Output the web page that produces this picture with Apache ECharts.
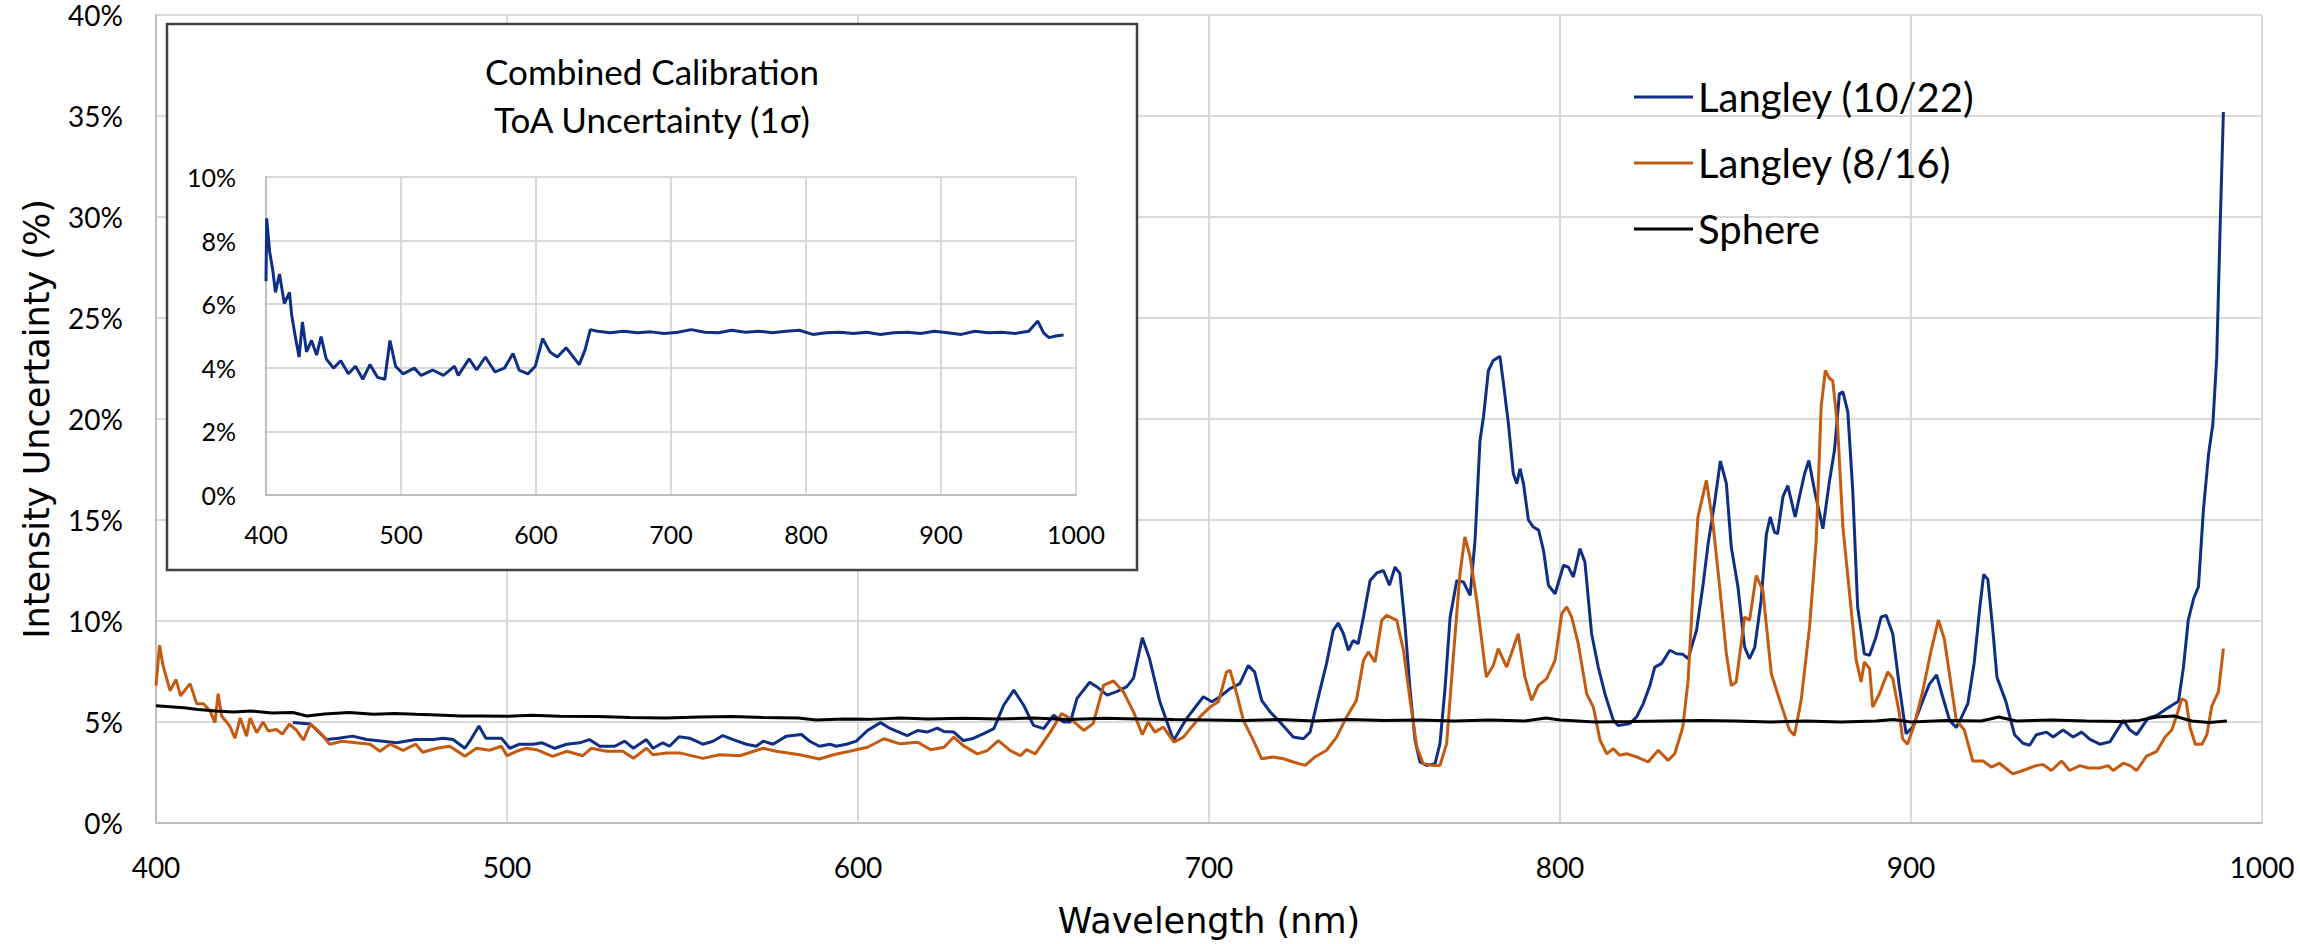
<!DOCTYPE html>
<html>
<head>
<meta charset="utf-8">
<title>Intensity Uncertainty</title>
<script src="https://cdn.jsdelivr.net/npm/echarts@6/dist/echarts.min.js"></script>
<style>
  html, body { margin: 0; padding: 0; background: #fff; }
  #main { width: 2300px; height: 944px; }
</style>
</head>
<body>
<div id="main"></div>
<script>
// Langley (10/22)
var wl1022 = [439, 444, 448.6, 452, 456, 460, 464.7, 468.5, 474, 479, 481.8, 484.6, 488, 489.4, 492, 494, 498.4, 500.8,
  503.6, 507.4, 510, 513.6, 517, 520.7, 523.5, 526.4, 530.7, 533.5, 536, 539.7, 541.6, 544.4, 546.3, 549, 552, 555.8,
  558.7, 561.5, 564.4, 568.2, 571, 573, 575.8, 579.6, 583.9, 586.2, 589, 592, 593.8, 596.7, 599.5,
  602.7, 606.4, 609.3, 614, 617, 619.7, 622.6, 624.5, 627.3, 630, 632.5, 635.8, 638.7, 641.5, 644.4, 647.2, 650,
  652.9, 655.7, 658.6, 660.5, 662.4, 666, 668, 671, 673.7, 676.6, 678.5, 681, 683, 686, 689.9, 693.6, 698.4, 700.8,
  703, 706, 708.8, 711.2, 713, 715, 717.4, 720.2, 724, 726.9, 728.8, 731.6, 733.5, 735.4, 736.8, 738.3, 739.7,
  741.1, 742.5, 744, 745.9, 747.8, 749.7, 751.4, 753, 754.4, 755.8, 757.3, 758.7, 760.1, 762, 764.4, 765.8, 767.2,
  768.7, 770.6, 772.5, 774.4, 775.8, 777.2, 778.2, 779.6, 781, 782.9, 783.9, 785.3, 786.7, 787.7, 788.6, 789.6,
  791, 792.4, 793.9, 795.3, 796.7, 798.6, 801, 802.4, 803.8, 805.7, 807.1, 809, 810.9, 812.8, 815.2, 816.6, 819.9,
  821.8, 823.7, 825.6, 827, 828.9, 831.3, 833.2, 835, 836.5, 838.9, 840.8, 842.2, 844, 845.7, 847.4, 848.8, 850.7,
  852.6, 854, 855.5, 857.3, 858.8, 859.9, 861.1, 862, 863.5, 864.9, 867, 868.2, 869.7, 870.9, 872.5, 874.9, 876.8,
  878.2, 879.6, 880.6, 882, 883.4, 884.8, 886.7, 888.2, 890, 891.5, 892.9, 894.8, 896.7, 898.6, 900.5, 903.3,
  905.2, 907.3, 909, 911, 912.9, 914.3, 916.2, 918, 919.5, 920.7, 921.9, 923.3, 924.5, 927, 929.5, 931.9, 933.8,
  935.7, 938.6, 940.5, 943.3, 946.2, 948.6, 951, 953.8, 956.7, 960.5, 962.4, 964.3, 967.6, 970, 972.9, 976.2,
  977.6, 979, 980.5, 981.9, 983.3, 984.8, 986, 987.1, 988.1, 989];
var val1022 = [4.97, 4.9, 4.13, 4.2, 4.3, 4.13, 4.05, 3.97, 4.13, 4.13, 4.2, 4.13, 3.7, 4.05, 4.8, 4.2, 4.2, 3.7,
  3.9, 3.9, 3.97, 3.7, 3.9, 3.97, 4.13, 3.8, 3.8, 4.05, 3.7, 4.13, 3.7, 3.97, 3.8, 4.27, 4.2, 3.9,
  4.05, 4.33, 4.13, 3.9, 3.8, 4.05, 3.9, 4.3, 4.38, 4.05, 3.8, 3.9, 3.8, 3.9, 4.05,
  4.58, 4.97, 4.67, 4.33, 4.58, 4.5, 4.7, 4.53, 4.5, 4.08, 4.17, 4.42, 4.67, 5.83, 6.58, 5.83, 4.83,
  4.67, 5.33, 5.0, 5.0, 6.17, 6.97, 6.75, 6.33, 6.5, 6.75, 7.17, 9.17, 8.17, 6.0, 4.08, 5.17, 6.25, 6.0,
  6.24, 6.65, 6.9, 7.8, 7.48, 6.07, 5.5, 5.0, 4.26, 4.17, 4.5, 6.57, 7.9, 9.54, 9.9, 9.37, 8.55,
  9.04, 8.88, 10.2, 12.0, 12.38, 12.5, 11.77, 12.67, 12.34, 9.87, 6.57, 4.1, 3.02, 2.85, 2.94, 3.93, 6.57,
  10.2, 12.0, 11.93, 11.27, 14.0, 18.94, 20.1, 22.4, 22.9, 23.1, 21.75, 19.77, 17.3, 16.8, 17.54, 16.8,
  15.0, 14.65, 14.5, 13.5, 11.77, 11.35, 12.76, 12.67, 12.18, 13.58, 12.92, 9.37, 7.72, 6.4, 5.08, 4.83, 4.92,
  5.25, 5.9, 6.8, 7.72, 7.89, 8.55, 8.38, 8.35, 8.14, 9.54, 11.85, 13.83, 15.8, 17.92, 16.8, 13.66, 11.68,
  8.71, 8.14, 8.71, 11.02, 14.3, 15.15, 14.4, 14.32, 16.14, 16.7, 15.15, 16.14, 17.3, 17.95, 16.47, 14.57, 16.96,
  18.45, 21.25, 21.34, 20.35, 16.47, 10.7, 8.38, 8.3, 9.2, 10.2, 10.28, 9.37, 6.73, 4.42, 4.75, 6.03,
  6.86, 7.33, 6.26, 5.08, 4.73, 5.2, 5.91, 7.92, 10.5, 12.3, 12.06, 9.57, 7.21, 6.03, 4.37, 3.95, 3.85,
  4.37, 4.5, 4.26, 4.6, 4.26, 4.5, 4.14, 3.9, 4.02, 5.08, 4.6, 4.37, 5.2, 5.32, 5.67, 6.03,
  7.68, 10.05, 11.1, 11.7, 15.48, 18.3, 19.74, 23.05, 29.67, 35.2];

// Langley (8/16)
var wl816 = [400, 401, 402, 404, 405.7, 407, 409.7, 411.6, 413.5, 415.4, 416.8, 417.7, 418.7, 421, 422.5, 424, 425.8,
  426.8, 428.7, 430.5, 432, 434.3, 436, 438, 440, 442, 444, 446, 447.6, 449.5, 453, 457, 461, 463.8, 466.6, 470.4,
  474, 476, 480, 483.7, 488, 491.3, 495, 498.4, 500, 502.7, 505.5, 508.4, 513, 517, 521.6, 524, 528.3, 533, 536,
  539.7, 541.6, 545.4, 549.2, 555.8, 560.6, 566.3, 573, 576.7, 583.4, 589, 593, 597.6, 602.7, 607.4, 612, 617,
  620.7, 624.5, 627.3, 630, 634, 636.8, 640, 643.4, 646.3, 648, 650.5, 654.8, 658, 660.5, 664.3, 667, 670, 672.8,
  675.6, 678.5, 681, 682.7, 684.6, 687, 690, 692.7, 697.4, 700.3, 702.7, 705, 706, 707.9, 709.8, 712.6, 715, 718.3,
  721.2, 724, 727.4, 730.2, 733.5, 736.4, 739.2, 742, 744, 745.4, 747.3, 749.2, 750.6, 753.5, 755.4, 757.3, 759.2,
  761, 763.9, 765.8, 767.7, 769.6, 771.5, 772.9, 774.4, 776.3, 777.7, 779, 781, 782.4, 784.8, 788.1, 790, 791.9,
  793.8, 796.2, 798.6, 800.5, 801.9, 803.3, 805.2, 807.6, 809.5, 811.4, 813.3, 815.2, 817, 819, 821.8, 825.1, 828,
  830.8, 832.7, 835, 836.5, 837.9, 839.3, 841.7, 843.6, 845.5, 847.4, 848.8, 850.2, 852.6, 854, 855.9, 857.8, 860.2,
  862.6, 865.4, 866.8, 868.7, 871.1, 873, 874.4, 875.6, 876.8, 877.7, 879.1, 880.6, 882.5, 884.4, 885.8, 886.7,
  888.2, 889.1, 891, 893.4, 894.8, 896.7, 897.6, 899, 901, 903.3, 905.7, 907.8, 909.5, 911, 912.9, 915.2, 917.6,
  920.5, 922.9, 925.2, 929, 931.9, 935.7, 937.6, 940, 942.9, 945.2, 948.1, 950.5, 953.8, 956.2, 957.6, 960.5,
  962.4, 964.3, 967.1, 970, 972.4, 974.3, 975.7, 977.1, 978.4, 979.5, 981, 982.9, 984.3, 985.7, 987.6, 989];
var val816 = [6.8, 8.8, 7.8, 6.55, 7.1, 6.3, 6.9, 5.9, 5.9, 5.55, 4.97, 6.4, 5.3, 4.8, 4.2, 5.2, 4.3,
  5.2, 4.47, 5.0, 4.55, 4.63, 4.4, 4.9, 4.6, 4.1, 4.9, 4.6, 4.3, 3.9, 4.05, 3.97, 3.9, 3.55, 3.9, 3.6,
  3.9, 3.5, 3.7, 3.8, 3.3, 3.7, 3.6, 3.8, 3.33, 3.55, 3.7, 3.63, 3.3, 3.55, 3.33, 3.7, 3.55, 3.55, 3.2,
  3.7, 3.38, 3.47, 3.47, 3.2, 3.38, 3.33, 3.7, 3.55, 3.38, 3.17, 3.38, 3.55, 3.75, 4.17, 3.92, 4.0,
  3.63, 3.75, 4.25, 3.83, 3.42, 3.58, 4.08, 3.58, 3.33, 3.63, 3.42, 4.5, 5.42, 5.17, 4.58, 4.92, 6.83, 7.03,
  6.5, 5.5, 4.37, 5.0, 4.5, 4.75, 4.0, 4.25, 5.25, 5.74, 6.0, 7.48, 7.56, 6.4, 5.08, 4.1, 3.18, 3.27,
  3.18, 3.02, 2.85, 3.27, 3.6, 4.26, 5.25, 6.07, 8.05, 8.47, 7.97, 10.03, 10.28, 10.03, 8.55, 6.07, 3.76,
  2.94, 2.85, 2.85, 3.93, 8.2, 12.34, 14.16, 13.17, 11.0, 9.04, 7.23, 7.8, 8.63, 7.72, 9.37, 7.23, 6.07,
  6.8, 7.15, 8.05, 10.36, 10.7, 10.2, 8.88, 6.4, 5.74, 4.1, 3.43, 3.68, 3.35, 3.43, 3.27, 3.02, 3.6,
  3.1, 3.43, 4.75, 7.06, 11.5, 15.15, 16.96, 14.8, 11.68, 8.38, 6.8, 6.98, 10.2, 10.03, 12.26, 11.5, 7.39,
  6.07, 4.59, 4.34, 6.07, 9.7, 14.0, 20.6, 22.4, 22.0, 21.9, 19.6, 14.65, 11.35, 8.05, 6.98, 7.97,
  7.64, 5.74, 6.4, 7.48, 7.15, 5.41, 4.17, 3.9, 4.9, 6.5, 8.51, 10.05, 9.1, 7.33, 5.08, 4.6, 3.07,
  3.07, 2.77, 2.96, 2.43, 2.6, 2.84, 2.9, 2.6, 3.07, 2.6, 2.84, 2.72, 2.72, 2.84, 2.6, 2.96,
  2.84, 2.6, 3.31, 3.55, 4.26, 4.6, 5.32, 6.15, 6.03, 4.73, 3.9, 3.9, 4.37, 5.79, 6.5, 8.63];

// Sphere
var wlSphere = [400, 404, 408, 412, 417, 422, 427, 433, 439, 443, 448, 455, 462, 468, 474, 480, 487, 493, 500, 507,
  515, 526, 535, 545, 555, 564, 573, 583, 588, 596, 603, 612, 620, 630, 640, 650, 660, 670, 680, 690, 700, 710,
  720, 730, 740, 750, 760, 770, 780, 790, 796, 800, 810, 820, 830, 840, 850, 860, 870, 880, 890, 895, 900, 910,
  920, 925, 930, 940, 950, 960, 965, 970, 975, 980, 985, 990];
var valSphere = [5.8, 5.75, 5.7, 5.62, 5.55, 5.5, 5.55, 5.45, 5.47, 5.3, 5.4, 5.47, 5.38, 5.42, 5.38, 5.35, 5.3, 5.3,
  5.28, 5.33, 5.28, 5.27, 5.22, 5.2, 5.25, 5.27, 5.22, 5.2, 5.1, 5.15, 5.13, 5.2, 5.15, 5.18, 5.15, 5.2, 5.12,
  5.18, 5.15, 5.12, 5.1, 5.08, 5.12, 5.05, 5.12, 5.08, 5.1, 5.05, 5.1, 5.05, 5.2, 5.1, 5.0, 5.02, 5.05, 5.08,
  5.05, 5.0, 5.05, 5.0, 5.05, 5.12, 5.0, 5.08, 5.05, 5.25, 5.05, 5.1, 5.05, 5.03, 5.08, 5.25, 5.3, 5.05, 4.98, 5.05];

// Inset: combined calibration ToA uncertainty
var wlInset = [400, 400.5, 402.7, 405, 407, 410, 413.6, 417.4, 419, 421.7, 424.5, 427, 430, 433.7, 437.5, 440.8,
  444.6, 450, 455.4, 461, 466.3, 471.7, 477, 482.6, 488, 491.8, 496, 501.6, 509.8, 515, 523.4, 531.5, 539.7,
  542.4, 550.5, 556, 562.5, 569.6, 576.6, 583, 587.5, 594, 599.5, 604.9, 610.3, 615.8, 622.3, 626.6, 632, 636.4,
  640.2, 645.6, 655, 665, 675, 685, 695, 705, 715, 725, 735, 745, 755, 765, 775, 785, 795, 805, 815, 825, 835,
  845, 855, 865, 875, 885, 895, 905, 915, 925, 935, 945, 955, 965, 971.7, 976, 980, 985, 990.8];
var valInset = [6.72, 8.7, 7.65, 7.07, 6.37, 6.95, 6.02, 6.37, 5.67, 4.98, 4.34, 5.44, 4.5, 4.86, 4.4, 4.98,
  4.28, 3.99, 4.22, 3.81, 4.05, 3.64, 4.1, 3.7, 3.64, 4.86, 4.05, 3.81, 3.99, 3.76, 3.93, 3.76, 4.05,
  3.76, 4.28, 3.93, 4.34, 3.87, 3.99, 4.45, 3.93, 3.81, 4.05, 4.92, 4.5, 4.34, 4.63, 4.4, 4.1, 4.57,
  5.2, 5.15, 5.1, 5.15, 5.1, 5.13, 5.08, 5.12, 5.2, 5.12, 5.1, 5.18, 5.12, 5.15, 5.1, 5.15, 5.18, 5.05, 5.1, 5.12, 5.08,
  5.12, 5.05, 5.1, 5.12, 5.08, 5.15, 5.1, 5.05, 5.15, 5.1, 5.12, 5.08, 5.15, 5.47, 5.1, 4.95, 5.0, 5.03];

var seriesNames = ['Langley (10/22)', 'Langley (8/16)', 'Sphere'];
var insetTitle = 'Combined Calibration\nToA Uncertainty (1σ)';

function pairs(xs, ys) {
  var out = [];
  for (var i = 0; i < xs.length; i++) out.push([xs[i], ys[i]]);
  return out;
}

var tickFont = 'Lato';
var titleFont = '"DejaVu Sans"';
var gridColor = '#d9d9d9';
var axisColor = '#bfbfbf';
var plain = function (v) { return String(v); };

var myChart = echarts.init(document.getElementById('main'), null, { renderer: 'svg' });

var option = {
  animation: false,
  backgroundColor: '#fff',
  grid: [
    { left: 156, right: 38, top: 15, bottom: 121 },
    { left: 266, right: 1224, top: 177, height: 318 }
  ],
  legend: {
    data: seriesNames,
    orient: 'vertical',
    left: 1634,
    top: 75,
    padding: 0,
    icon: 'rect',
    itemWidth: 59,
    itemHeight: 3,
    itemGap: 22,
    textStyle: { fontFamily: tickFont, fontSize: 40, lineHeight: 44, color: '#000' }
  },
  graphic: {
    elements: [
      {
        type: 'rect',
        z: 1,
        shape: { x: 167, y: 24, width: 970, height: 546 },
        style: { fill: '#fff', stroke: '#404040', lineWidth: 2.5 }
      },
      {
        type: 'text',
        z: 5,
        style: {
          text: insetTitle,
          x: 652,
          y: 47,
          textAlign: 'center',
          textVerticalAlign: 'top',
          fontFamily: tickFont,
          fontSize: 35,
          lineHeight: 48,
          fill: '#000'
        }
      }
    ]
  },
  xAxis: [
    {
      type: 'value',
      gridIndex: 0,
      min: 400,
      max: 1000,
      interval: 100,
      name: 'Wavelength (nm)',
      nameLocation: 'middle',
      nameGap: 80,
      nameTextStyle: { fontFamily: titleFont, fontSize: 35, color: '#000' },
      axisLine: { lineStyle: { color: axisColor, width: 2 } },
      axisTick: { show: false },
      axisLabel: { fontFamily: tickFont, fontSize: 28, color: '#000', margin: 30, formatter: plain },
      splitLine: { show: true, lineStyle: { color: gridColor, width: 2 } }
    },
    {
      type: 'value',
      gridIndex: 1,
      min: 400,
      max: 1000,
      interval: 100,
      z: 3,
      axisLine: { lineStyle: { color: axisColor, width: 2 } },
      axisTick: { show: false },
      axisLabel: { fontFamily: tickFont, fontSize: 25, color: '#000', margin: 26, formatter: plain },
      splitLine: { show: true, lineStyle: { color: gridColor, width: 2 } }
    }
  ],
  yAxis: [
    {
      type: 'value',
      gridIndex: 0,
      min: 0,
      max: 40,
      interval: 5,
      name: 'Intensity Uncertainty (%)',
      nameLocation: 'middle',
      nameGap: 102,
      nameTextStyle: { fontFamily: titleFont, fontSize: 35, color: '#000' },
      axisLine: { show: true, lineStyle: { color: axisColor, width: 2 } },
      axisTick: { show: false },
      axisLabel: { fontFamily: tickFont, fontSize: 28, color: '#000', margin: 33, formatter: '{value}%' },
      splitLine: { show: true, lineStyle: { color: gridColor, width: 2 } }
    },
    {
      type: 'value',
      gridIndex: 1,
      min: 0,
      max: 10,
      interval: 2,
      z: 3,
      axisLine: { show: true, lineStyle: { color: axisColor, width: 2 } },
      axisTick: { show: false },
      axisLabel: { fontFamily: tickFont, fontSize: 25, color: '#000', margin: 30, formatter: '{value}%' },
      splitLine: { show: true, lineStyle: { color: gridColor, width: 2 } }
    }
  ],
  series: [
    {
      name: seriesNames[0],
      type: 'line',
      xAxisIndex: 0,
      yAxisIndex: 0,
      symbol: 'none',
      color: '#0f2f85',
      lineStyle: { width: 3 },
      data: pairs(wl1022, val1022)
    },
    {
      name: seriesNames[1],
      type: 'line',
      xAxisIndex: 0,
      yAxisIndex: 0,
      symbol: 'none',
      color: '#c55a11',
      lineStyle: { width: 3 },
      data: pairs(wl816, val816)
    },
    {
      name: seriesNames[2],
      type: 'line',
      xAxisIndex: 0,
      yAxisIndex: 0,
      symbol: 'none',
      color: '#000000',
      lineStyle: { width: 3 },
      data: pairs(wlSphere, valSphere)
    },
    {
      name: 'Combined',
      type: 'line',
      xAxisIndex: 1,
      yAxisIndex: 1,
      z: 4,
      symbol: 'none',
      color: '#0f2f85',
      lineStyle: { width: 3 },
      data: pairs(wlInset, valInset)
    }
  ]
};

myChart.setOption(option);
</script>
</body>
</html>
